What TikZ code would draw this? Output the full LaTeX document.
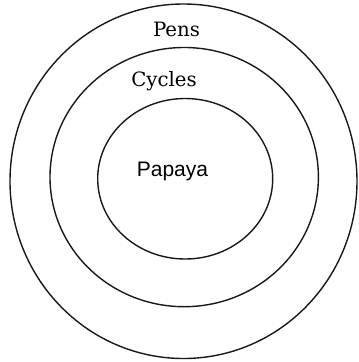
\documentclass[tikz,border=0pt]{standalone}
\usepackage{fontspec}
\setmainfont{DejaVu Serif}
\newfontfamily\papayafont{Liberation Sans}
\begin{document}
\begin{tikzpicture}[x=1pt,y=-1pt,
  ring/.style={draw=black!90,line width=1.4pt},
  serlabel/.style={font=\fontsize{19.75}{22}\selectfont,inner sep=0pt},
  sanslabel/.style={font=\papayafont\fontsize{21}{24}\selectfont,inner sep=0pt}]
\useasboundingbox[fill=white] (0,0) rectangle (359,362);
\draw[ring] (183.5,181.25) ellipse [x radius=173.5pt, y radius=177.25pt];
\draw[ring] (184.2,177.1) ellipse [x radius=134.2pt, y radius=129.6pt];
\draw[ring] (185.2,178.75) ellipse [x radius=87.5pt, y radius=80.25pt];
\node[serlabel,anchor=base] (pens) at (176.5,36.7) {Pens};
\node[serlabel,anchor=base] (cycles) at (164,86.7) {Cycles};
\node[sanslabel,anchor=base] (papaya) at (172.5,176.7) {Papaya};
\end{tikzpicture}
\end{document}
